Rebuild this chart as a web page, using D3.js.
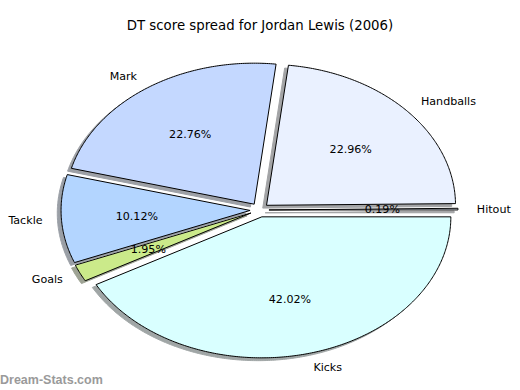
<!DOCTYPE html>
<html>
<head>
<meta charset="utf-8">
<script src="https://cdn.jsdelivr.net/npm/d3@7"></script>
<style>
  body { margin: 0; background: #fff; }
  svg { display: block; }
  text { font-family: "DejaVu Sans", sans-serif; fill: #000; }
</style>
</head>
<body>
<svg id="chart"></svg>
<script>
// data, counterclockwise from 3 o'clock like the original
const categories = ['Hitout', 'Handballs', 'Mark', 'Tackle', 'Goals', 'Kicks'];
const shares = [0.19, 22.96, 22.76, 10.12, 1.95, 42.02];
const sliceColors = ['#eaf1ff', '#eaf1ff', '#c4d8ff', '#b3d5ff', '#cbea8a', '#d9ffff'];
const chartTitle = 'DT score spread for Jordan Lewis (2006)';
const watermark = 'Dream-Stats.com';

const width = 520, height = 390;
const explode = 0.05, labelDist = 1.1, pctDist = 0.6;

const svg = d3.select('#chart').attr('width', width).attr('height', height);

// unit circle -> stretched ellipse on screen
const x = d3.scaleLinear().domain([-1, 1]).range([70.5, 448.5]);
const y = d3.scaleLinear().domain([-1, 1]).range([351, 69]);

const arcs = d3.pie().sort(null).value((d) => d)(shares);

const line = d3.line().x((p) => x(p[0])).y((p) => y(p[1]));

function wedgePoints(a, ox, oy) {
  const pts = [[ox, oy]];
  const n = Math.max(2, Math.ceil((a.endAngle - a.startAngle) / 0.01));
  for (let i = 0; i <= n; i++) {
    const t = a.startAngle + (a.endAngle - a.startAngle) * i / n;
    pts.push([ox + Math.cos(t), oy + Math.sin(t)]);
  }
  pts.push([ox, oy]);
  return pts;
}

const slices = arcs.map((a, i) => {
  const mid = (a.startAngle + a.endAngle) / 2;
  return {
    a, mid,
    name: categories[i],
    color: sliceColors[i],
    ox: explode * Math.cos(mid),
    oy: explode * Math.sin(mid),
  };
});

// shadows first (lower zorder)
svg.append('g').selectAll('path')
  .data(slices)
  .join('path')
  .attr('d', (s) => line(wedgePoints(s.a, s.ox - 0.02, s.oy - 0.02)) + 'Z')
  .attr('fill', (s) => {
    const c = d3.rgb(s.color);
    return d3.rgb(255 - (255 - 0.3 * c.r) * 0.5, 255 - (255 - 0.3 * c.g) * 0.5, 255 - (255 - 0.3 * c.b) * 0.5);
  })
  .attr('stroke', (s) => {
    const c = d3.rgb(s.color);
    return d3.rgb(255 - (255 - 0.3 * c.r) * 0.5, 255 - (255 - 0.3 * c.g) * 0.5, 255 - (255 - 0.3 * c.b) * 0.5);
  })
  .attr('stroke-width', 1);

svg.append('g').selectAll('path')
  .data(slices)
  .join('path')
  .attr('d', (s) => line(wedgePoints(s.a, s.ox, s.oy)) + 'Z')
  .attr('fill', (s) => s.color)
  .attr('stroke', '#000')
  .attr('stroke-width', 1)
  .attr('stroke-linejoin', 'miter');

// category labels
svg.append('g').selectAll('text')
  .data(slices)
  .join('text')
  .attr('x', (s) => x(s.ox + labelDist * Math.cos(s.mid)))
  .attr('y', (s) => y(s.oy + labelDist * Math.sin(s.mid)))
  .attr('dy', '0.36em')
  .attr('text-anchor', (s) => (Math.cos(s.mid) > 0 ? 'start' : 'end'))
  .style('font-size', '11.1px')
  .text((s) => s.name);

// percentages
svg.append('g').selectAll('text')
  .data(slices)
  .join('text')
  .attr('x', (s) => x(s.ox + pctDist * Math.cos(s.mid)))
  .attr('y', (s) => y(s.oy + pctDist * Math.sin(s.mid)))
  .attr('dy', '0.36em')
  .attr('text-anchor', 'middle')
  .style('font-size', '11.1px')
  .text((s, i) => shares[i].toFixed(2) + '%');

svg.append('text')
  .attr('x', width / 2)
  .attr('y', 25)
  .attr('dy', '0.36em')
  .attr('text-anchor', 'middle')
  .style('font-size', '13.3px')
  .text(chartTitle);

svg.append('text')
  .attr('x', 0)
  .attr('y', 384)
  .style('font-family', '"Liberation Sans", Arial, sans-serif')
  .style('font-weight', 'bold')
  .style('font-size', '12.5px')
  .style('fill', '#9a9a9a')
  .text(watermark);
</script>
</body>
</html>
